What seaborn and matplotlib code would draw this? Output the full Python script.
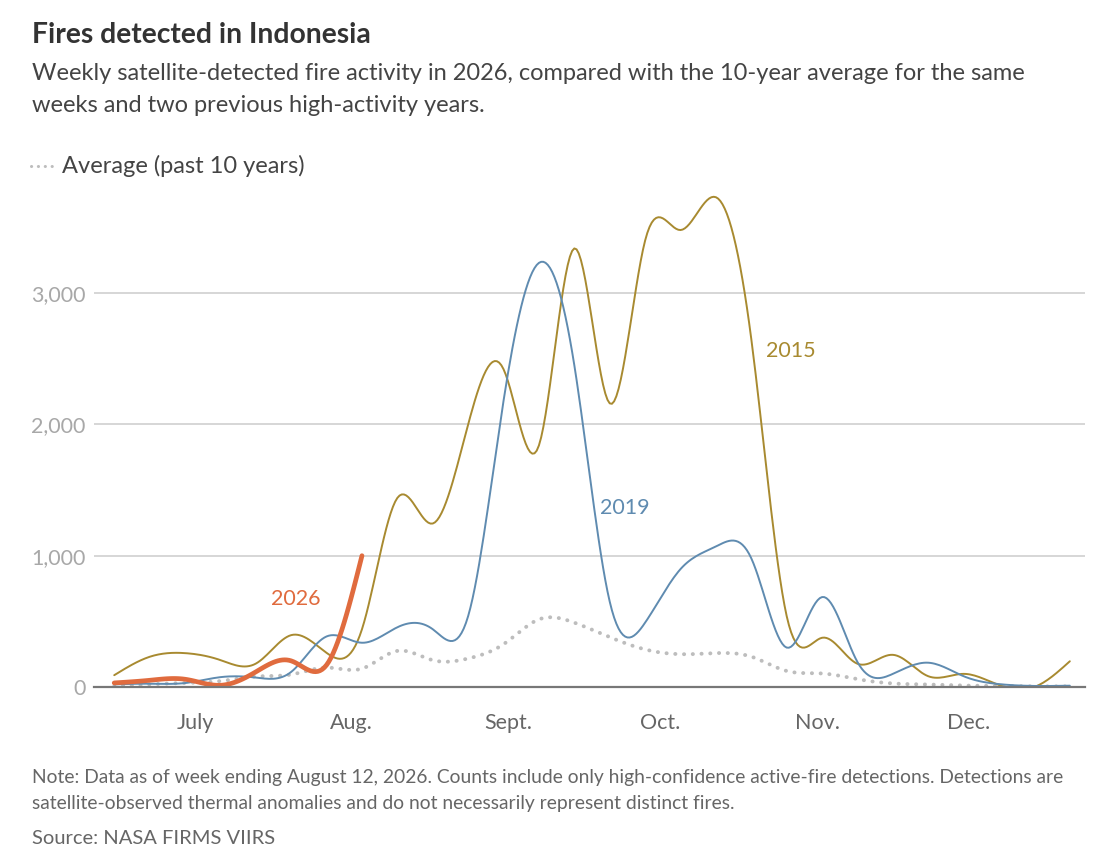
import seaborn as sns
import matplotlib.pyplot as plt
import matplotlib.dates as mdates
import pandas as pd
import numpy as np

# ------------------------------------------------------------
# data (weekly counts)
# ------------------------------------------------------------
weeks = pd.date_range("2026-06-15", "2026-12-21", freq="7D")

fires_2015 = [90, 230, 258, 205, 178, 395, 260, 440, 1440, 1245, 2000, 2420, 1840, 3340,
              2160, 3400, 3480, 3730, 2650, 540, 375, 177, 245, 82, 100, 14, 0, 196]
fires_2019 = [20, 25, 30, 75, 72, 115, 385, 337, 455, 440, 540, 2180, 3230, 2450,
              650, 490, 898, 1070, 980, 300, 685, 190, 100, 185, 82, 22, 8, 10]
fires_avg = [5, 20, 31, 45, 80, 95, 148, 140, 275, 204, 217, 326, 515, 490,
             380, 286, 250, 258, 231, 122, 103, 60, 27, 19, 11, 8, 5, 5]
fires_2026 = [31, 51, 59, 13, 115, 199, 168, 1000]

month_ticks = ["2026-07-01", "2026-08-01", "2026-09-01", "2026-10-01", "2026-11-01", "2026-12-01"]
month_labels = ["July", "Aug.", "Sept.", "Oct.", "Nov.", "Dec."]
y_ticks = [0, 1000, 2000, 3000]

C_2015 = "#a88a30"
C_2019 = "#5f8bb0"
C_2026 = "#e06b3e"
C_AVG = "#bdbdbd"


def smooth(dates, values, n=16):
    """natural cubic spline through the weekly points (drawing only)"""
    x = mdates.date2num(dates)
    y = np.asarray(values, dtype=float)
    k = len(x)
    h = np.diff(x)
    A = np.zeros((k, k))
    b = np.zeros(k)
    A[0, 0] = A[-1, -1] = 1
    for i in range(1, k - 1):
        A[i, i - 1] = h[i - 1]
        A[i, i] = 2 * (h[i - 1] + h[i])
        A[i, i + 1] = h[i]
        b[i] = 3 * ((y[i + 1] - y[i]) / h[i] - (y[i] - y[i - 1]) / h[i - 1])
    c = np.linalg.solve(A, b)
    xs, ys = [], []
    for i in range(k - 1):
        t = np.linspace(0, h[i], n, endpoint=False)
        bi = (y[i + 1] - y[i]) / h[i] - h[i] * (2 * c[i] + c[i + 1]) / 3
        di = (c[i + 1] - c[i]) / (3 * h[i])
        xs.append(x[i] + t)
        ys.append(y[i] + bi * t + c[i] * t ** 2 + di * t ** 3)
    xs.append([x[-1]])
    ys.append([y[-1]])
    return pd.DataFrame({"date": np.concatenate(xs), "fires": np.concatenate(ys)})


sns.set_theme(style="white")
plt.rcParams["font.family"] = ["Lato", "DejaVu Sans"]

fig = plt.figure(figsize=(11.02, 8.66), dpi=100)
ax = fig.add_axes([94 / 1102, 1 - 687 / 866, 991 / 1102, 502 / 866])

sns.lineplot(data=smooth(weeks, fires_avg), x="date", y="fires", ax=ax, color=C_AVG,
             lw=2.8, linestyle=(0, (0.05, 2.2)), dash_capstyle="round", sort=False,
             estimator=None)
sns.lineplot(data=smooth(weeks, fires_2015), x="date", y="fires", ax=ax, color=C_2015,
             lw=1.4, sort=False, estimator=None)
sns.lineplot(data=smooth(weeks, fires_2019), x="date", y="fires", ax=ax, color=C_2019,
             lw=1.4, sort=False, estimator=None)
sns.lineplot(data=smooth(weeks[:len(fires_2026)], fires_2026), x="date", y="fires", ax=ax,
             color=C_2026, lw=3.4, solid_capstyle="round", sort=False, estimator=None)

ax.set_xlim(mdates.datestr2num("2026-06-11"), mdates.datestr2num("2026-12-24"))
ax.set_ylim(0, 3823)

# axes styling
for s in ["top", "right", "left"]:
    ax.spines[s].set_visible(False)
ax.spines["bottom"].set_color("#777777")
ax.spines["bottom"].set_linewidth(1.6)
ax.set_yticks(y_ticks)
ax.set_yticklabels([f"{v:,}" for v in y_ticks])
ax.yaxis.grid(True, color="#cccccc", lw=1.1)
ax.tick_params(axis="y", length=0, pad=6, labelsize=15.5, labelcolor="#a8a8a8")
ax.set_xticks(mdates.datestr2num(month_ticks))
ax.set_xticklabels(month_labels)
ax.tick_params(axis="x", length=8, width=1, color="#cccccc", pad=11, labelsize=15.5,
               labelcolor="#666666")
ax.set_xlabel("")
ax.set_ylabel("")

# series labels
lab = dict(fontsize=15.5, ha="left", va="center")
ax.text(mdates.datestr2num("2026-10-22"), 2560, "2015", color=C_2015, **lab)
ax.text(mdates.datestr2num("2026-09-19"), 1365, "2019", color=C_2019, **lab)
ax.text(mdates.datestr2num("2026-07-16"), 670, "2026", color=C_2026, **lab)

# titles
fig.text(32 / 1102, 1 - 35 / 866, "Fires detected in Indonesia", fontsize=20.3, fontweight="bold",
         color="#333333", va="center")
fig.text(32 / 1102, 1 - 74 / 866,
         "Weekly satellite-detected fire activity in 2026, compared with the 10-year average for the same",
         fontsize=17, color="#444444", va="center")
fig.text(32 / 1102, 1 - 105 / 866, "weeks and two previous high-activity years.",
         fontsize=17, color="#444444", va="center")

# legend
fig.add_artist(plt.Line2D([31 / 1102, 56 / 1102], [1 - 166 / 866] * 2, color=C_AVG, lw=2.2,
                          linestyle=(0, (0.05, 2.2)), dash_capstyle="round"))
fig.text(62 / 1102, 1 - 166 / 866, "Average (past 10 years)", fontsize=17, color="#444444",
         va="center")

# notes
fig.text(32 / 1102, 1 - 777 / 866,
         "Note: Data as of week ending August 12, 2026. Counts include only high-confidence active-fire detections. Detections are",
         fontsize=13.9, color="#666666", va="center")
fig.text(32 / 1102, 1 - 803 / 866,
         "satellite-observed thermal anomalies and do not necessarily represent distinct fires.",
         fontsize=13.9, color="#666666", va="center")
fig.text(32 / 1102, 1 - 838 / 866, "Source: NASA FIRMS VIIRS", fontsize=14.5, color="#666666",
         va="center")

fig.savefig("out.png", dpi=100)
